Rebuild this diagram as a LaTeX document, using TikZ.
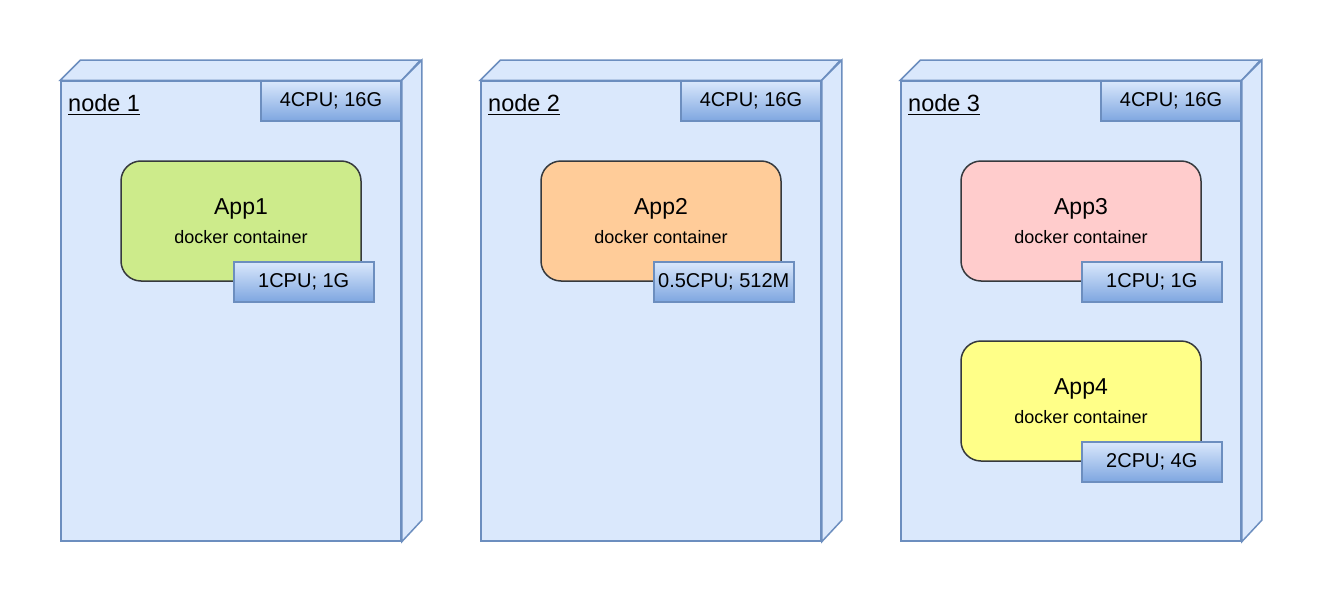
\documentclass[tikz,border=0pt]{standalone}
\usepackage{fontspec}
\setmainfont{Liberation Sans}

\definecolor{hostFill}{HTML}{DAE8FC}
\definecolor{hostLine}{HTML}{6C8EBF}
\definecolor{tagDark}{HTML}{7EA6E0}
\definecolor{appLine}{HTML}{36393D}
\definecolor{appGreen}{HTML}{CDEB8B}
\definecolor{appOrange}{HTML}{FFCC99}
\definecolor{appRed}{HTML}{FFCCCC}
\definecolor{appYellow}{HTML}{FFFF88}

\begin{document}
\begin{tikzpicture}[
        x=1pt, y=-1pt,
        hostFace/.style={draw=hostLine, fill=hostFill, line width=1.5pt},
        hostBox/.style={hostFace, minimum width=340pt, minimum height=460pt, inner sep=0pt},
        hostLabel/.style={anchor=base west, inner sep=0pt, font=\fontsize{23.5}{27}\selectfont},
        underLine/.style={line width=1.5pt},
        resTag/.style={draw=hostLine, line width=1.5pt, top color=hostFill, bottom color=tagDark,
            minimum width=140pt, minimum height=40pt, inner sep=0pt, font=\fontsize{20}{24}\selectfont},
        appBox/.style={draw=appLine, line width=1.5pt, rounded corners=20pt,
            minimum width=240pt, minimum height=120pt, inner sep=0pt},
        appName/.style={anchor=base, inner sep=0pt, font=\fontsize{23}{27}\selectfont},
        appKind/.style={anchor=base, inner sep=0pt, font=\fontsize{18}{22}\selectfont}
    ]
        \useasboundingbox (0,0) rectangle (1322,602);

        % node 1
        \node[hostBox] (host1) at (231,311) {};
        \draw[hostFace] (host1.north west) -- ++(20,-20) -- ++(340,0) -- (host1.north east) -- cycle;
        \draw[hostFace] (host1.north east) -- ++(20,-20) -- ++(0,460) -- (host1.south east) -- cycle;
        \node[hostLabel] (label1) at (68,111) {node 1};
        \draw[underLine] ([yshift=-3.5pt]label1.base west) -- ([yshift=-3.5pt]label1.base east);
        \node[resTag, anchor=north east] (hostTag1) at (host1.north east) {4CPU; 16G};

        \node[appBox, fill=appGreen] (app1) at (241,221) {};
        \node[appName] at ([yshift=7pt]app1.center) {App1};
        \node[appKind] at ([yshift=-22pt]app1.center) {docker container};
        \node[resTag] (appTag1) at ([xshift=-58pt]app1.south east) {1CPU; 1G};

        % node 2
        \node[hostBox] (host2) at (651,311) {};
        \draw[hostFace] (host2.north west) -- ++(20,-20) -- ++(340,0) -- (host2.north east) -- cycle;
        \draw[hostFace] (host2.north east) -- ++(20,-20) -- ++(0,460) -- (host2.south east) -- cycle;
        \node[hostLabel] (label2) at (488,111) {node 2};
        \draw[underLine] ([yshift=-3.5pt]label2.base west) -- ([yshift=-3.5pt]label2.base east);
        \node[resTag, anchor=north east] (hostTag2) at (host2.north east) {4CPU; 16G};

        \node[appBox, fill=appOrange] (app2) at (661,221) {};
        \node[appName] at ([yshift=7pt]app2.center) {App2};
        \node[appKind] at ([yshift=-22pt]app2.center) {docker container};
        \node[resTag] (appTag2) at ([xshift=-58pt]app2.south east) {0.5CPU; 512M};

        % node 3, two containers
        \node[hostBox] (host3) at (1071,311) {};
        \draw[hostFace] (host3.north west) -- ++(20,-20) -- ++(340,0) -- (host3.north east) -- cycle;
        \draw[hostFace] (host3.north east) -- ++(20,-20) -- ++(0,460) -- (host3.south east) -- cycle;
        \node[hostLabel] (label3) at (908,111) {node 3};
        \draw[underLine] ([yshift=-3.5pt]label3.base west) -- ([yshift=-3.5pt]label3.base east);
        \node[resTag, anchor=north east] (hostTag3) at (host3.north east) {4CPU; 16G};

        \node[appBox, fill=appRed] (app3) at (1081,221) {};
        \node[appName] at ([yshift=7pt]app3.center) {App3};
        \node[appKind] at ([yshift=-22pt]app3.center) {docker container};
        \node[resTag] (appTag3) at ([xshift=-50pt]app3.south east) {1CPU; 1G};

        \node[appBox, fill=appYellow] (app4) at (1081,401) {};
        \node[appName] at ([yshift=7pt]app4.center) {App4};
        \node[appKind] at ([yshift=-22pt]app4.center) {docker container};
        \node[resTag] (appTag4) at ([xshift=-50pt]app4.south east) {2CPU; 4G};

    \end{tikzpicture}
\end{document}
